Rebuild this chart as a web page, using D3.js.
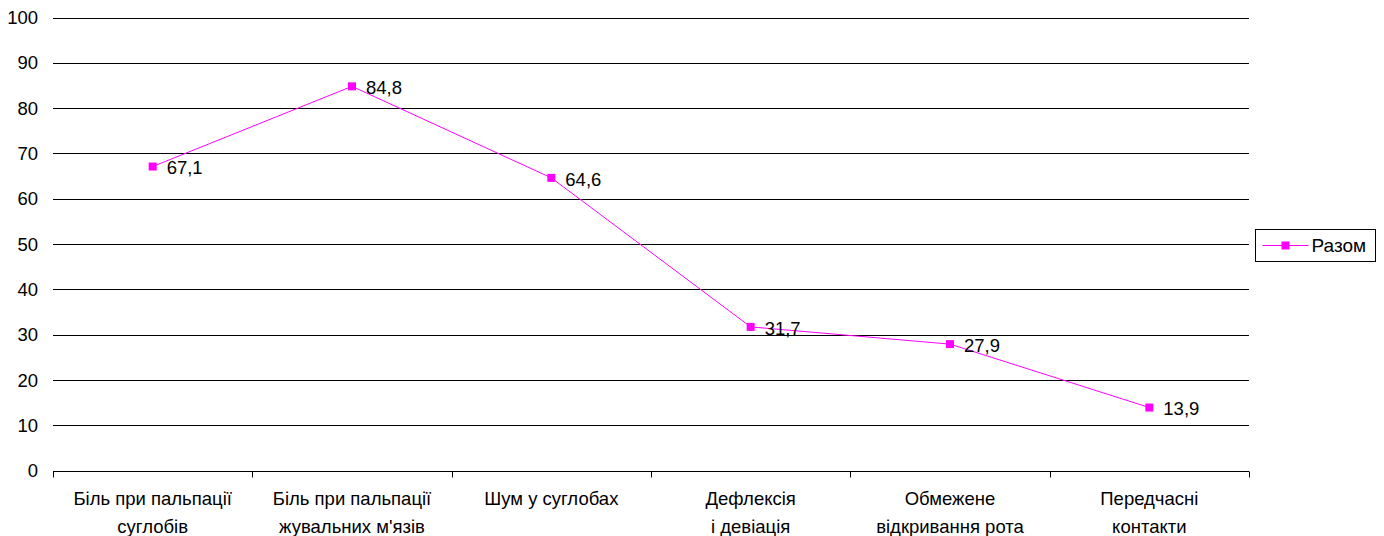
<!DOCTYPE html>
<html>
<head>
<meta charset="utf-8">
<script src="https://cdn.jsdelivr.net/npm/d3@7"></script>
<style>
  body { margin: 0; background: #fff; }
  text { font-family: "Liberation Sans", Arial, sans-serif; }
</style>
</head>
<body>
<svg id="chart"></svg>
<script>
const categories = [
  ["Біль при пальпації", "суглобів"],
  ["Біль при пальпації", "жувальних м'язів"],
  ["Шум у суглобах"],
  ["Дефлексія", "і девіація"],
  ["Обмежене", "відкривання рота"],
  ["Передчасні", "контакти"]
];
const values = [67.1, 84.8, 64.6, 31.7, 27.9, 13.9];
const valueLabels = ["67,1", "84,8", "64,6", "31,7", "27,9", "13,9"];
const yTicks = [0, 10, 20, 30, 40, 50, 60, 70, 80, 90, 100];
const seriesName = "Разом";

const w = 1384, h = 536;
const plotLeft = 53, plotRight = 1249, plotTop = 17.5, plotBottom = 470.5;
const pink = "#ff00ff";
const fs = 18.5;

const svg = d3.select("#chart").attr("width", w).attr("height", h);

const x = d3.scaleBand()
  .domain(d3.range(categories.length))
  .range([plotLeft, plotRight]);

const y = d3.scaleLinear()
  .domain([0, 100])
  .range([plotBottom, plotTop]);

// gridlines
svg.append("g")
  .selectAll("line")
  .data(yTicks.filter(d => d > 0))
  .join("line")
  .attr("x1", plotLeft)
  .attr("x2", plotRight)
  .attr("y1", d => Math.round(y(d)) + 0.5)
  .attr("y2", d => Math.round(y(d)) + 0.5)
  .attr("stroke", "#000")
  .attr("stroke-width", 1);

// y labels
svg.append("g")
  .selectAll("text")
  .data(yTicks)
  .join("text")
  .attr("x", 38)
  .attr("y", d => y(d))
  .attr("dy", "0.36em")
  .attr("text-anchor", "end")
  .attr("font-size", fs)
  .attr("fill", "#000")
  .text(d => d);

// x axis
const xAxisG = svg.append("g").attr("transform", `translate(0,${Math.round(plotBottom) + 0.5})`);
xAxisG.append("line")
  .attr("x1", plotLeft).attr("x2", plotRight)
  .attr("stroke", "#000");
xAxisG.selectAll("line.tick")
  .data(d3.range(categories.length + 1))
  .join("line")
  .attr("class", "tick")
  .attr("x1", i => Math.round(plotLeft + i * x.step()) + 0.5)
  .attr("x2", i => Math.round(plotLeft + i * x.step()) + 0.5)
  .attr("y1", 0).attr("y2", 6)
  .attr("stroke", "#000");

const catText = xAxisG.selectAll("text.cat")
  .data(categories)
  .join("text")
  .attr("class", "cat")
  .attr("text-anchor", "middle")
  .attr("font-size", fs)
  .attr("fill", "#000")
  .attr("transform", (d, i) => `translate(${x(i) + x.bandwidth() / 2},0)`);
catText.selectAll("tspan")
  .data(d => d)
  .join("tspan")
  .attr("x", 0)
  .attr("y", (d, j) => 33 + j * 28)
  .text(d => d);

// line
const line = d3.line()
  .x((d, i) => x(i) + x.bandwidth() / 2)
  .y(d => y(d));

svg.append("path")
  .datum(values)
  .attr("d", line)
  .attr("fill", "none")
  .attr("stroke", pink)
  .attr("stroke-width", 1);

svg.append("g")
  .selectAll("rect")
  .data(values)
  .join("rect")
  .attr("x", (d, i) => x(i) + x.bandwidth() / 2 - 4)
  .attr("y", d => y(d) - 4)
  .attr("width", 8)
  .attr("height", 8)
  .attr("fill", pink);

svg.append("g")
  .selectAll("text")
  .data(values)
  .join("text")
  .attr("x", (d, i) => x(i) + x.bandwidth() / 2 + 14)
  .attr("y", d => y(d) + 1)
  .attr("dy", "0.36em")
  .attr("font-size", fs)
  .attr("fill", "#000")
  .text((d, i) => valueLabels[i]);

// legend
const lg = svg.append("g").attr("transform", "translate(1255.5,229.5)");
lg.append("rect")
  .attr("width", 120).attr("height", 32)
  .attr("fill", "#fff").attr("stroke", "#000");
lg.append("line")
  .attr("x1", 7).attr("x2", 53).attr("y1", 16).attr("y2", 16)
  .attr("stroke", pink);
lg.append("rect")
  .attr("x", 26).attr("y", 12).attr("width", 8).attr("height", 8)
  .attr("fill", pink);
lg.append("text")
  .attr("x", 56).attr("y", 16).attr("dy", "0.36em")
  .attr("font-size", 19).attr("fill", "#000")
  .text(seriesName);
</script>
</body>
</html>
